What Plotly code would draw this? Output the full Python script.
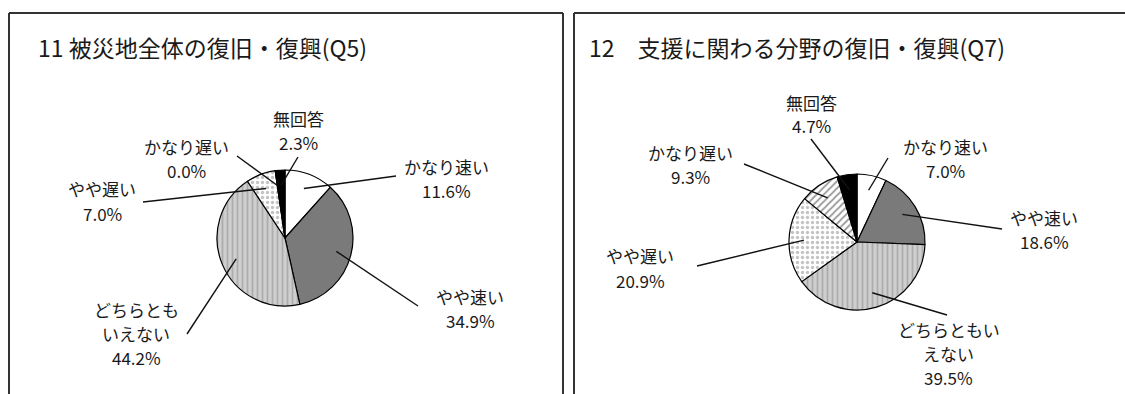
import math
import plotly.graph_objects as go

W, H = 1125, 394

categories = ["かなり速い", "やや速い", "どちらともいえない", "やや遅い", "かなり遅い", "無回答"]
values_q5 = [11.6, 34.9, 44.2, 7.0, 0.0, 2.3]
values_q7 = [7.0, 18.6, 39.5, 20.9, 9.3, 4.7]
title_q5 = "11 被災地全体の復旧・復興(Q5)"
title_q7 = "12　支援に関わる分野の復旧・復興(Q7)"
# label lines (broken like the original)
labels_q5 = [["かなり速い"], ["やや速い"], ["どちらとも", "いえない"], ["やや遅い"], ["かなり遅い"], ["無回答"]]
labels_q7 = [["かなり速い"], ["やや速い"], ["どちらともい", "えない"], ["やや遅い"], ["かなり遅い"], ["無回答"]]

FONT = "Noto Sans CJK JP"
colors = ["#ffffff", "#7a7a7a", "#cfcfcf", "#ffffff", "#ffffff", "#000000"]
shapes_pat = ["", "", "|", ".", "/", ""]
fgcols = ["#000", "#000", "#8a8a8a", "#888888", "#333333", "#000"]

LINE_GAP = 24
# layout (pixels): label centre x / first-line y, leader-line tail
panels = [
    dict(vals=values_q5, labs=labels_q5, title=title_q5, cx=285, cy=238, r=68, tx=36,
         lab_pos=[(446, 166), (470, 296), (136, 309), (102, 189), (186, 146), (298, 118)],
         tails=[(396, 176), (418, 306), (187, 334), (143, 202), (237, 156), (298, 157)]),
    dict(vals=values_q7, labs=labels_q7, title=title_q7, cx=857, cy=242, r=68, tx=587,
         lab_pos=[(945, 146), (1044, 217), (949, 329), (640, 256), (690, 152), (811, 102)],
         tails=[(888, 158), (1002, 229), (947, 315), (697, 266), (744, 164), (811, 139)]),
]

fig = go.Figure()
annotations = []
shapes = []
for p in panels:
    cx, cy, r = p["cx"], p["cy"], p["r"]
    fig.add_trace(go.Pie(
        labels=categories, values=p["vals"], sort=False, direction="clockwise", rotation=0,
        textinfo="none", hoverinfo="label+value", showlegend=False,
        marker=dict(colors=colors, line=dict(color="#000000", width=1.2),
                    pattern=dict(shape=shapes_pat, fgcolor=fgcols, bgcolor=colors,
                                 size=5, solidity=0.35, fillmode="overlay")),
        domain=dict(x=[(cx - r) / W, (cx + r) / W], y=[1 - (cy + r) / H, 1 - (cy - r) / H]),
    ))
    cum = 0.0
    total = sum(p["vals"])
    for v, lines, (lx, ly), (tx_, ty_) in zip(p["vals"], p["labs"], p["lab_pos"], p["tails"]):
        mid = (cum + v / 2) / total * 2 * math.pi
        cum += v
        k = 0.78
        px = cx + r * k * math.sin(mid)
        py = cy - r * k * math.cos(mid)
        for i, t in enumerate(lines + [f"{v:.1f}%"]):
            annotations.append(dict(
                x=lx / W, y=1 - (ly + i * LINE_GAP) / H, xref="paper", yref="paper",
                xanchor="center", yanchor="middle", text=t, showarrow=False,
                font=dict(family=FONT, size=17, color="#1a1a1a"),
            ))
        shapes.append(dict(type="line", xref="paper", yref="paper",
                           x0=tx_ / W, y0=1 - ty_ / H, x1=px / W, y1=1 - py / H,
                           line=dict(color="#111", width=1.4)))
    annotations.append(dict(
        x=p["tx"] / W, y=1 - 47 / H, xref="paper", yref="paper", xanchor="left", yanchor="middle",
        text=p["title"], showarrow=False, font=dict(family=FONT, size=23, color="#1a1a1a"),
    ))

frame = dict(color="#333", width=2)
shapes += [
    # left panel frame
    dict(type="line", xref="paper", yref="paper", x0=9 / W, x1=9 / W, y0=1 - 13 / H, y1=-0.05, line=frame),
    dict(type="line", xref="paper", yref="paper", x0=9 / W, x1=563 / W, y0=1 - 13 / H, y1=1 - 13 / H, line=frame),
    dict(type="line", xref="paper", yref="paper", x0=563 / W, x1=563 / W, y0=1 - 13 / H, y1=-0.05, line=frame),
    # right panel frame
    dict(type="line", xref="paper", yref="paper", x0=574 / W, x1=574 / W, y0=1 - 13 / H, y1=-0.05, line=frame),
    dict(type="line", xref="paper", yref="paper", x0=574 / W, x1=1.01, y0=1 - 13 / H, y1=1 - 13 / H, line=frame),
]

fig.update_layout(
    width=W, height=H, margin=dict(l=0, r=0, t=0, b=0),
    paper_bgcolor="white", plot_bgcolor="white",
    annotations=annotations, shapes=shapes,
)
fig.write_html("out.html")
